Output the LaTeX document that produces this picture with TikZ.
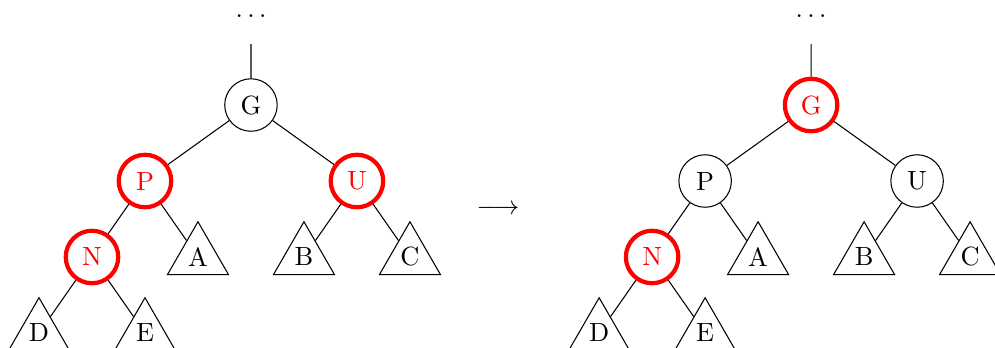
\documentclass[tikz,border=0pt]{standalone}
\usepackage{amsmath}
\usepackage{tikz}
\usetikzlibrary{shapes.geometric}

\begin{document}
\begin{tikzpicture}[x=0.7067cm, y=1.0133cm]
\tikzset{
    v/.style={circle, draw, minimum size=7mm, inner sep=0pt},
    redv/.style={circle, draw=red, text=red, line width=1.6pt, minimum size=7mm, inner sep=0pt},
    sub/.style={regular polygon, regular polygon sides=3, draw, minimum size=9.4mm, inner sep=0pt}
}
\useasboundingbox (-4.736,1.382) rectangle (14.04,-3.197);

% --- before ---
\node (ldots) at (0,1.17) {.\kern1.7pt.\kern1.7pt.};
\coordinate (ltop) at (0,0.8);
\node[v] (lG) at (0,0) {G};
\node[redv] (lP) at (-2,-1) {P};
\node[redv] (lU) at (2,-1) {U};
\node[redv] (lN) at (-3,-2) {N};
\node[sub] (lA) at (-1,-2) {A};
\node[sub] (lB) at (1,-2) {B};
\node[sub] (lC) at (3,-2) {C};
\node[sub] (lD) at (-4,-3) {D};
\node[sub] (lE) at (-2,-3) {E};

% --- arrow ---
\node (step1) at (4.66,-1.38) {$\longrightarrow$};

% --- after ---
\node (rdots) at (10.57,1.17) {.\kern1.7pt.\kern1.7pt.};
\coordinate (rtop) at (10.57,0.8);
\node[redv] (rG) at (10.57,0) {G};
\node[v] (rP) at (8.57,-1) {P};
\node[v] (rU) at (12.57,-1) {U};
\node[redv] (rN) at (7.57,-2) {N};
\node[sub] (rA) at (9.57,-2) {A};
\node[sub] (rB) at (11.57,-2) {B};
\node[sub] (rC) at (13.57,-2) {C};
\node[sub] (rD) at (6.57,-3) {D};
\node[sub] (rE) at (8.57,-3) {E};

% --- edges ---
\draw (ltop)--(lG) (lG)--(lP) (lG)--(lU);
\draw (lP)--(lN) (lP)--(lA) (lU)--(lB) (lU)--(lC);
\draw (lN)--(lD) (lN)--(lE);

\draw (rtop)--(rG) (rG)--(rP) (rG)--(rU);
\draw (rP)--(rN) (rP)--(rA) (rU)--(rB) (rU)--(rC);
\draw (rN)--(rD) (rN)--(rE);
\end{tikzpicture}
\end{document}
